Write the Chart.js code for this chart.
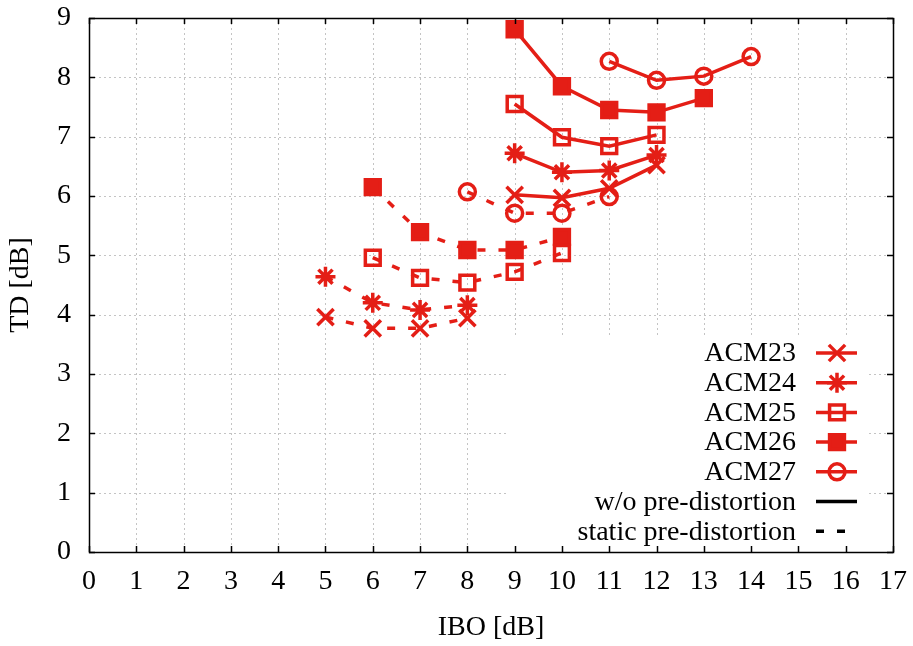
<!DOCTYPE html>
<html><head><meta charset="utf-8">
<script src="https://cdn.jsdelivr.net/npm/chart.js@4.4.0/dist/chart.umd.min.js"></script>
<style>html,body{margin:0;padding:0;background:#fff}#wrap{width:913px;height:646px;position:relative}</style>
</head><body><div id="wrap"><canvas id="c"></canvas></div>
<script>
// ---- data ----
const xTickValues = [0,1,2,3,4,5,6,7,8,9,10,11,12,13,14,15,16,17];
const yTickValues = [0,1,2,3,4,5,6,7,8,9];
const seriesNames = ['ACM23','ACM24','ACM25','ACM26','ACM27'];
const styleNames = ['w/o pre-distortion','static pre-distortion'];

// w/o pre-distortion (solid)
const acm23_noPD_IBO = [9,10,11,12];
const acm23_noPD_TD  = [6.02,5.97,6.13,6.52];
const acm24_noPD_IBO = [9,10,11,12];
const acm24_noPD_TD  = [6.72,6.40,6.43,6.69];
const acm25_noPD_IBO = [9,10,11,12];
const acm25_noPD_TD  = [7.55,6.99,6.84,7.03];
const acm26_noPD_IBO = [9,10,11,12,13];
const acm26_noPD_TD  = [8.81,7.85,7.45,7.41,7.65];
const acm27_noPD_IBO = [11,12,13,14];
const acm27_noPD_TD  = [8.27,7.95,8.02,8.35];

// static pre-distortion (dashed)
const acm23_static_IBO = [5,6,7,8];
const acm23_static_TD  = [3.96,3.77,3.77,3.94];
const acm24_static_IBO = [5,6,7,8];
const acm24_static_TD  = [4.64,4.20,4.08,4.16];
const acm25_static_IBO = [6,7,8,9,10];
const acm25_static_TD  = [4.96,4.62,4.54,4.72,5.04];
const acm26_static_IBO = [6,7,8,9,10];
const acm26_static_TD  = [6.15,5.39,5.09,5.09,5.31];
const acm27_static_IBO = [8,9,10,11];
const acm27_static_TD  = [6.07,5.71,5.71,5.99];

// ---- styling ----
const RED = '#e41e16';
const FONT = '"Liberation Serif", "Times New Roman", serif';
const DASH = [8,13];
const markers = [
  {pointStyle:'crossRot', radius:11.5, fill:'rgba(0,0,0,0)'},
  {pointStyle:'star', radius:10, fill:'rgba(0,0,0,0)'},
  {pointStyle:'rect', radius:10.5, fill:'rgba(0,0,0,0)'},
  {pointStyle:'rect', radius:10.5, fill:RED},
  {pointStyle:'circle', radius:8, fill:'rgba(0,0,0,0)'}
];

function pts(xs, ys){ return xs.map((x,i)=>({x:x, y:ys[i]})); }
const solidSets = [
  pts(acm23_noPD_IBO, acm23_noPD_TD), pts(acm24_noPD_IBO, acm24_noPD_TD),
  pts(acm25_noPD_IBO, acm25_noPD_TD), pts(acm26_noPD_IBO, acm26_noPD_TD),
  pts(acm27_noPD_IBO, acm27_noPD_TD)
];
const dashSets = [
  pts(acm23_static_IBO, acm23_static_TD), pts(acm24_static_IBO, acm24_static_TD),
  pts(acm25_static_IBO, acm25_static_TD), pts(acm26_static_IBO, acm26_static_TD),
  pts(acm27_static_IBO, acm27_static_TD)
];

const datasets = [];
function mk(label, data, m, dash){
  return {label, data, showLine:true, borderColor:RED, borderWidth:3.5, borderDash:dash,
    pointStyle:m.pointStyle, pointRadius:m.radius, pointHoverRadius:m.radius,
    pointBackgroundColor:m.fill, pointBorderColor:RED, pointBorderWidth:3.5,
    backgroundColor:m.fill, clip:false, tension:0};
}
seriesNames.forEach((n,i)=>{
  datasets.push(mk(n+' '+styleNames[0], solidSets[i], markers[i], []));
  datasets.push(mk(n+' '+styleNames[1], dashSets[i], markers[i], DASH));
});

const LEFT_W = 89, BOTTOM_H = 94;

const framePlugin = {
  id:'frame',
  beforeDatasetsDraw(chart){
    const {ctx, chartArea:a, scales:{x, y}} = chart;
    ctx.save();
    ctx.strokeStyle = '#c4c4c4';
    ctx.lineWidth = 1;
    ctx.setLineDash([2,3]);
    xTickValues.forEach(v=>{
      if (v===0 || v===17) return;
      const px = Math.round(x.getPixelForValue(v))+0.5;
      ctx.beginPath(); ctx.moveTo(px, a.top); ctx.lineTo(px, a.bottom); ctx.stroke();
    });
    yTickValues.forEach(v=>{
      if (v===0 || v===9) return;
      const py = Math.round(y.getPixelForValue(v))+0.5;
      ctx.beginPath(); ctx.moveTo(a.left, py); ctx.lineTo(a.right, py); ctx.stroke();
    });
    ctx.restore();
    // legend box background (opaque)
    ctx.save();
    ctx.fillStyle = '#fff';
    ctx.fillRect(508, 337, 360, 210);
    ctx.restore();
  },
  afterDraw(chart){
    const {ctx, chartArea:a, scales:{x, y}} = chart;
    ctx.save();
    ctx.strokeStyle = '#000';
    ctx.lineWidth = 1.5;
    ctx.setLineDash([]);
    const T = 6;
    xTickValues.forEach(v=>{
      const px = Math.round(x.getPixelForValue(v))+0.5;
      ctx.beginPath();
      ctx.moveTo(px, a.bottom); ctx.lineTo(px, a.bottom - T);
      ctx.moveTo(px, a.top); ctx.lineTo(px, a.top + T);
      ctx.stroke();
    });
    yTickValues.forEach(v=>{
      const py = Math.round(y.getPixelForValue(v))+0.5;
      ctx.beginPath();
      ctx.moveTo(a.left, py); ctx.lineTo(a.left + T, py);
      ctx.moveTo(a.right, py); ctx.lineTo(a.right - T, py);
      ctx.stroke();
    });
    ctx.strokeRect(Math.round(a.left)+0.5, Math.round(a.top)+0.5, Math.round(a.right-a.left), Math.round(a.bottom-a.top));
    ctx.restore();

    // legend
    ctx.save();
    ctx.font = '28px ' + FONT;
    ctx.textAlign = 'right';
    ctx.textBaseline = 'middle';
    ctx.fillStyle = '#000';
    const textX = 796, lx0 = 816, lx1 = 857, mx = 837, y0 = 353, dy = 29.7;
    const labels = seriesNames.concat(styleNames);
    labels.forEach((lab,i)=>{
      const ry = y0 + i*dy;
      ctx.fillStyle = '#000';
      ctx.fillText(lab, textX, ry + 1);
      ctx.lineWidth = 3.5;
      if (i < 5){
        ctx.strokeStyle = RED; ctx.setLineDash([]);
        ctx.beginPath(); ctx.moveTo(lx0, ry); ctx.lineTo(lx1, ry); ctx.stroke();
        const m = markers[i];
        ctx.lineWidth = 3.5;
        ctx.fillStyle = m.fill;
        Chart.helpers.drawPoint(ctx, {pointStyle:m.pointStyle, radius:m.radius, rotation:0, borderWidth:3.5}, mx, ry);
      } else {
        ctx.strokeStyle = '#000';
        ctx.setLineDash(i===5 ? [] : DASH);
        ctx.beginPath(); ctx.moveTo(lx0, ry); ctx.lineTo(lx1, ry); ctx.stroke();
      }
    });
    ctx.restore();
  }
};

new Chart(document.getElementById('c'), {
  type:'scatter',
  data:{datasets},
  options:{
    responsive:true, maintainAspectRatio:false, animation:false,
    layout:{padding:{top:18, right:20, left:0, bottom:0}},
    plugins:{legend:{display:false}, tooltip:{enabled:false}},
    scales:{
      x:{
        type:'linear', min:0, max:17,
        afterFit(s){ s.height = BOTTOM_H; s.paddingLeft = 0; s.paddingRight = 0; },
        afterBuildTicks(s){ s.ticks = xTickValues.map(v=>({value:v})); },
        grid:{display:false, drawTicks:false},
        border:{display:false},
        ticks:{font:{family:FONT, size:28}, color:'#000', padding:13, maxRotation:0, autoSkip:false},
        title:{display:true, text:'IBO [dB]', font:{family:FONT, size:28}, color:'#000', padding:{top:0, bottom:2}}
      },
      y:{
        type:'linear', min:0, max:9,
        afterFit(s){ s.width = LEFT_W; s.paddingTop = 0; s.paddingBottom = 0; },
        afterBuildTicks(s){ s.ticks = yTickValues.map(v=>({value:v})); },
        grid:{display:false, drawTicks:false},
        border:{display:false},
        ticks:{font:{family:FONT, size:28}, color:'#000', padding:18, autoSkip:false},
        title:{display:true, text:'TD [dB]', font:{family:FONT, size:28}, color:'#000', padding:{top:4, bottom:0}}
      }
    }
  },
  plugins:[framePlugin]
});
</script>
</body></html>
